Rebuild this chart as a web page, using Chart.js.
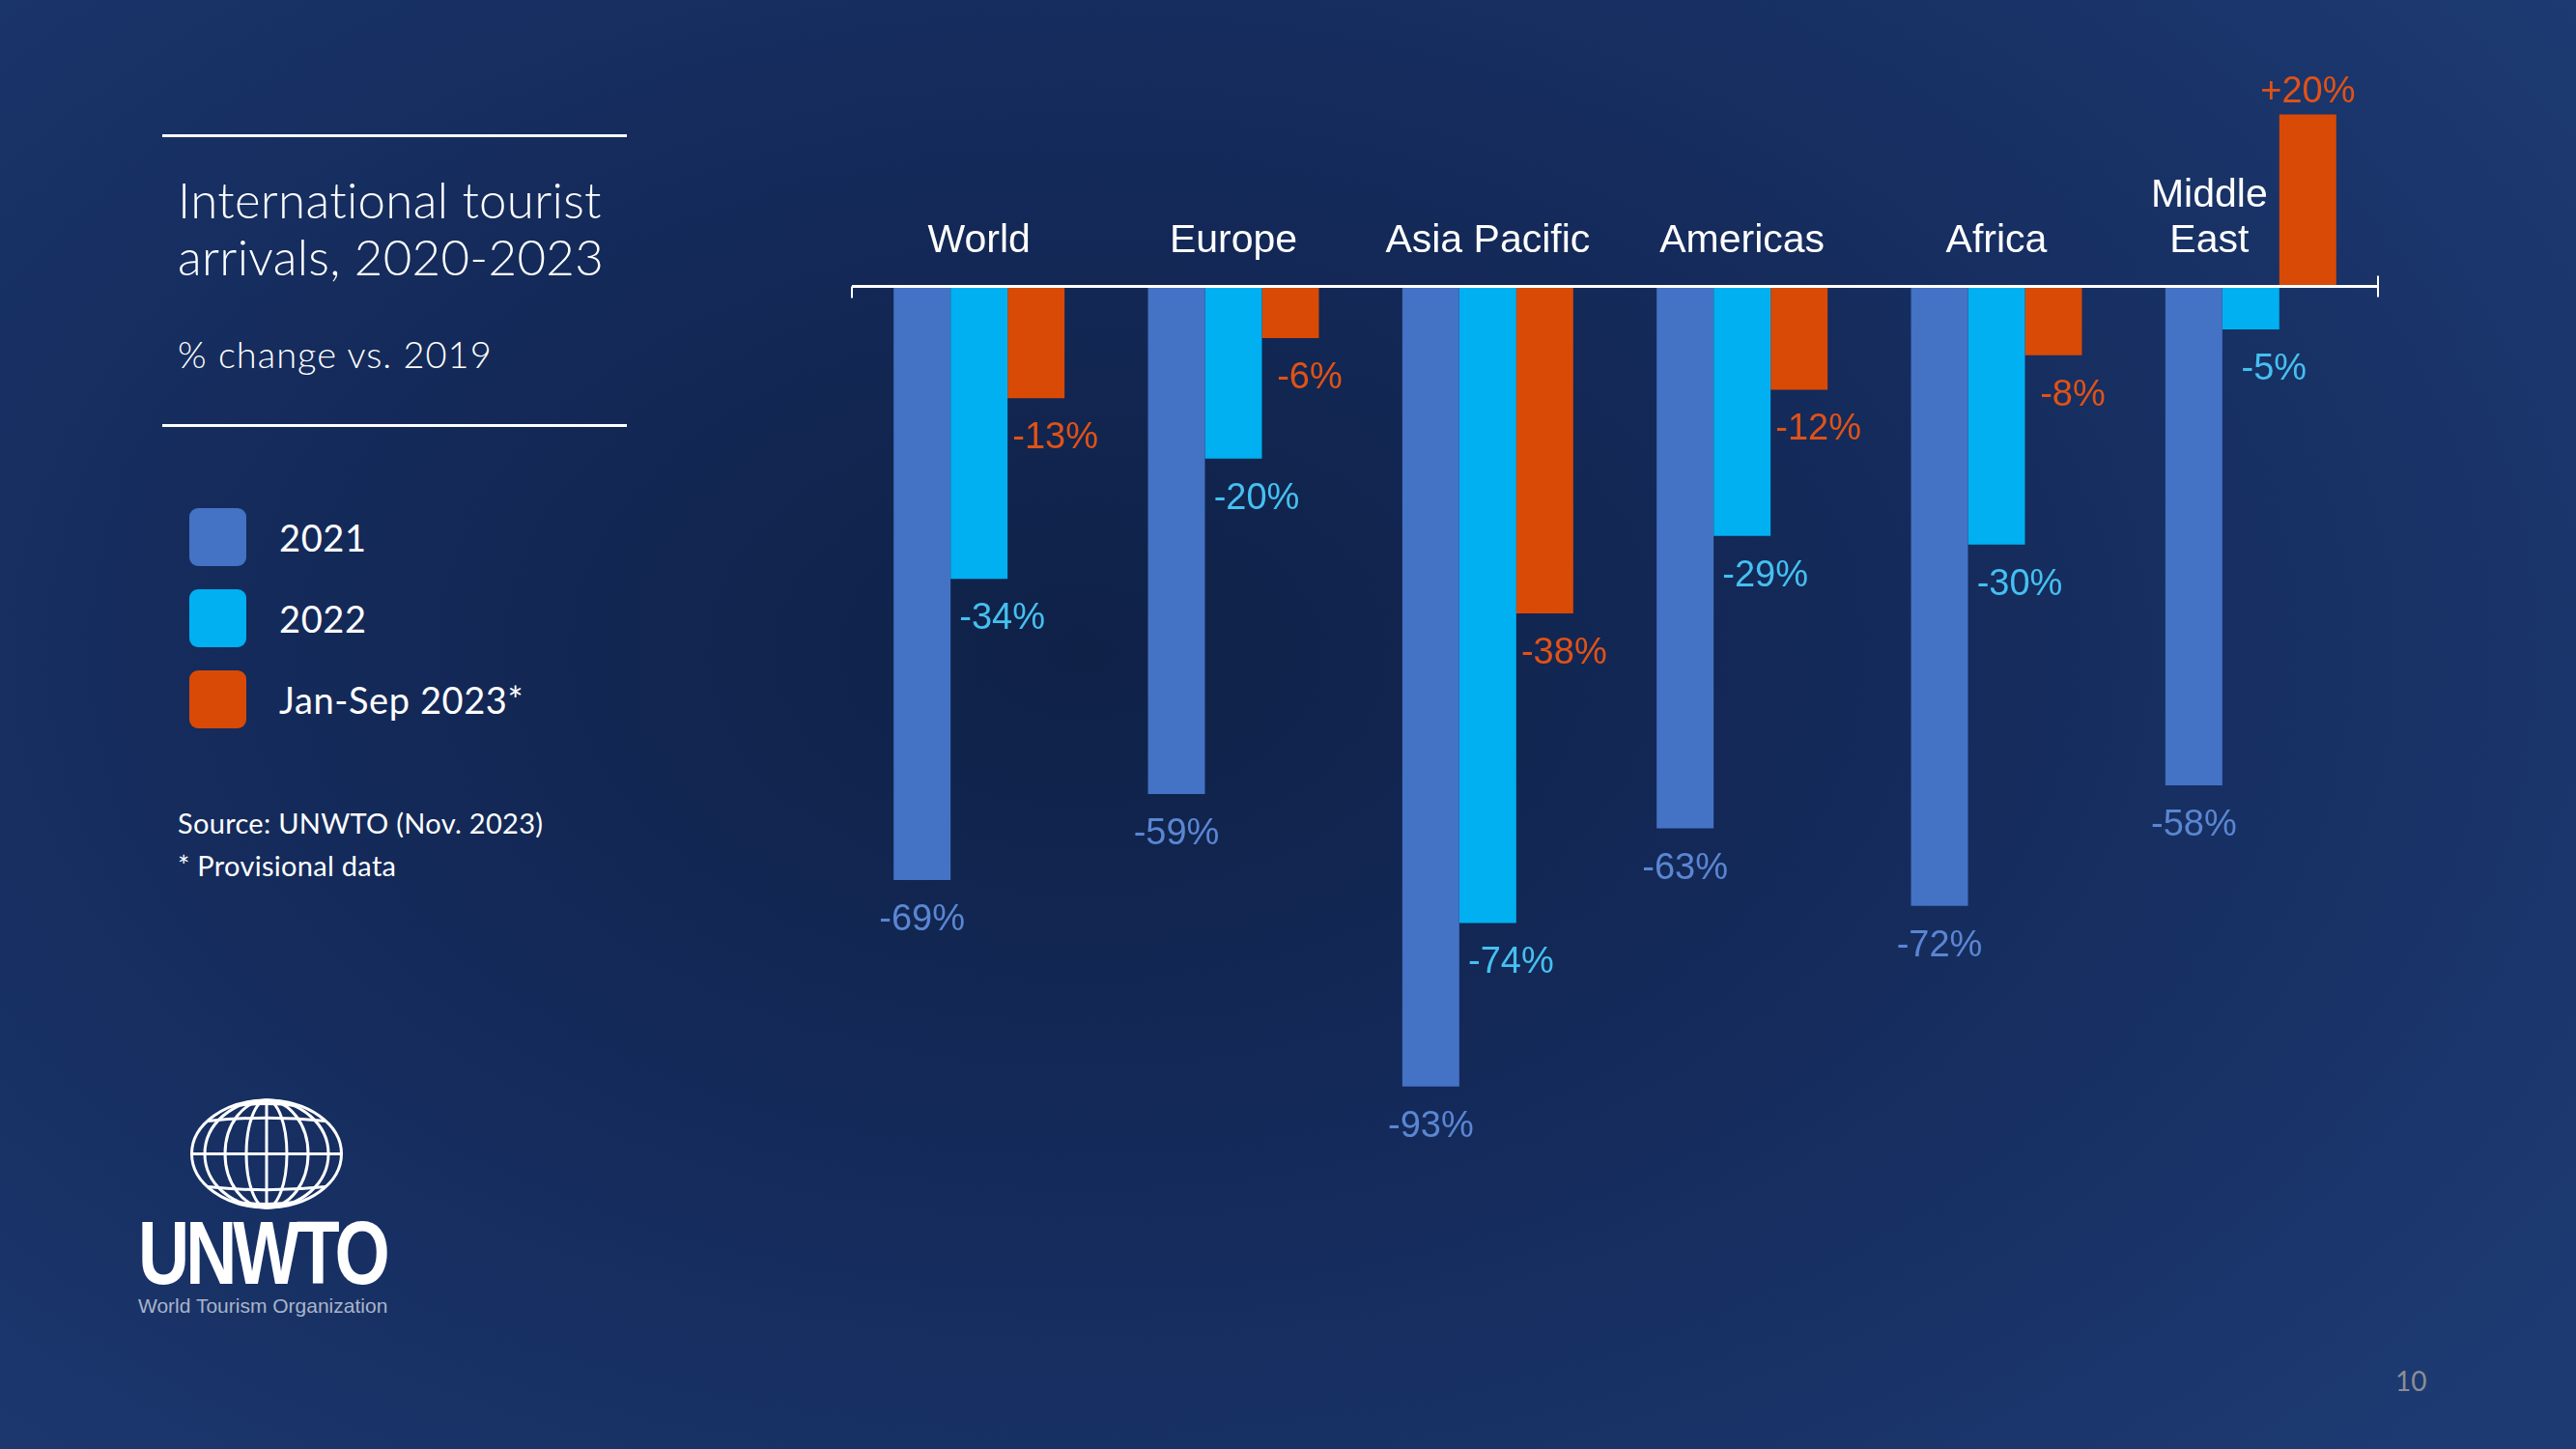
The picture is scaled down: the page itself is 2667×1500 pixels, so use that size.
<!DOCTYPE html>
<html>
<head>
<meta charset="utf-8">
<script src="https://cdn.jsdelivr.net/npm/chart.js@4.4.0/dist/chart.umd.min.js"></script>
<style>
  html, body { margin: 0; padding: 0; width: 2667px; height: 1500px; overflow: hidden; }
  body {
    position: relative;
    background: radial-gradient(ellipse 70% 80% at 42% 45%, #0f2147 0%, #142a5a 45%, #1d3a72 100%);
    font-family: Lato, "Open Sans", sans-serif;
    color: #fff;
  }
  .abs { position: absolute; white-space: nowrap; }
  .rule { position: absolute; left: 168px; width: 481px; height: 3px; background: #fff; }
  .title { left: 184px; top: 177px; font-size: 51px; line-height: 59px; font-weight: 300; letter-spacing: 0.3px; }
  .sub { left: 184px; top: 344px; font-size: 38px; line-height: 1.2; font-weight: 300; letter-spacing: 1px; }
  .lg-box { position: absolute; left: 196px; width: 59px; height: 60px; border-radius: 9px; }
  .lg-txt { left: 289px; font-size: 38px; line-height: 1.2; letter-spacing: 0.6px; }
  .src { left: 184px; top: 830px; font-size: 29px; line-height: 44px; letter-spacing: 0.3px; }
  .brand { left: 143px; top: 1242px; font-family: "Liberation Sans", Arial, sans-serif; font-weight: bold;
           font-size: 92px; line-height: 1.2; letter-spacing: -5px; transform: scaleX(0.8); transform-origin: left top; }
  .org { left: 143px; top: 1339px; font-family: "Liberation Sans", Arial, sans-serif;
         font-size: 21px; line-height: 1.2; color: #aab4cb; }
  .page { left: 2480px; top: 1413px; font-size: 28px; line-height: 1.2; color: #8b8e95; }
  #chart { position: absolute; left: 0; top: 0; }
</style>
</head>
<body>

<div class="rule" style="top:139px"></div>
<div class="abs title">International tourist<br>arrivals, 2020-2023</div>
<div class="abs sub">% change vs. 2019</div>
<div class="rule" style="top:439px"></div>

<div id="legend"></div>

<div class="abs src">Source: UNWTO (Nov. 2023)<br>* Provisional data</div>

<svg class="abs" style="left:194px;top:1136px" width="164" height="120" viewBox="0 0 164 120">
  <g fill="none" stroke="#fff" stroke-width="3">
    <ellipse cx="82" cy="58.5" rx="77.5" ry="55.5"/>
    <ellipse cx="82" cy="58.5" rx="64" ry="55.5"/>
    <ellipse cx="82" cy="58.5" rx="43" ry="55.5"/>
    <ellipse cx="82" cy="58.5" rx="21" ry="55.5"/>
    <line x1="82" y1="3" x2="82" y2="114"/>
    <line x1="4.5" y1="58.5" x2="159.5" y2="58.5"/>
    <path d="M21 24.5 Q82 18 143 24.5"/>
    <path d="M21 92.5 Q82 99 143 92.5"/>
    <path d="M48 9 Q82 4 116 9"/>
    <path d="M48 108 Q82 113 116 108"/>
  </g>
</svg>
<div class="abs brand">UNWTO</div>
<div class="abs org">World Tourism Organization</div>

<div class="abs page">10</div>

<canvas id="chart" width="2667" height="1500"></canvas>

<script>
const regions = ['World', 'Europe', 'Asia Pacific', 'Americas', 'Africa', ['Middle', 'East']];
const seriesNames = ['2021', '2022', 'Jan-Sep 2023*'];
const v2021 = [-69, -59, -93, -63, -72, -58];
const v2022 = [-34, -20, -74, -29, -30, -5];
const v2023 = [-13, -6, -38, -12, -8, 20];

const barColors = ['#4472c4', '#00b0f0', '#d94a06'];
const labelColors = ['#5a86d2', '#45c0f0', '#e05216'];
// value labels of the 2nd and 3rd series sit a bit to the right of their bars
const labelShift = [0, 24, 20];

// legend on the left panel
const legendTops = [526, 610, 694];
const legendEl = document.getElementById('legend');
seriesNames.forEach((name, i) => {
    const box = document.createElement('div');
    box.className = 'lg-box';
    box.style.top = legendTops[i] + 'px';
    box.style.background = barColors[i];
    legendEl.appendChild(box);
    const txt = document.createElement('div');
    txt.className = 'abs lg-txt';
    txt.style.top = (legendTops[i] + 8) + 'px';
    txt.textContent = name;
    legendEl.appendChild(txt);
});

const fmt = v => (v > 0 ? '+' : '') + v + '%';

const axisAndLabels = {
    id: 'axisAndLabels',
    afterDatasetsDraw(chart) {
        const { ctx, scales: { x, y } } = chart;
        const y0 = y.getPixelForValue(0);
        ctx.save();
        // zero line with end ticks
        ctx.strokeStyle = '#ffffff';
        ctx.lineWidth = 3;
        ctx.beginPath();
        ctx.moveTo(x.left, y0);
        ctx.lineTo(x.right, y0);
        ctx.stroke();
        ctx.lineWidth = 2;
        ctx.beginPath();
        ctx.moveTo(x.left, y0);
        ctx.lineTo(x.left, y0 + 12);
        ctx.moveTo(x.right, y0 - 11);
        ctx.lineTo(x.right, y0 + 11);
        ctx.stroke();

        // region names above the zero line
        ctx.fillStyle = '#ffffff';
        ctx.font = '41px "Liberation Sans", Arial, sans-serif';
        ctx.textAlign = 'center';
        ctx.textBaseline = 'alphabetic';
        regions.forEach((r, i) => {
            const lines = Array.isArray(r) ? r : [r];
            const cx = x.getPixelForValue(i) + (lines.length > 1 ? -43 : 0);
            lines.forEach((t, j) => {
                ctx.fillText(t, cx, y0 - 36 - (lines.length - 1 - j) * 47);
            });
        });

        // value labels
        ctx.font = '38px "Liberation Sans", Arial, sans-serif';
        chart.data.datasets.forEach((ds, di) => {
            const meta = chart.getDatasetMeta(di);
            ctx.fillStyle = labelColors[di];
            meta.data.forEach((bar, i) => {
                const v = ds.data[i];
                const tx = bar.x + (v > 0 ? 0 : labelShift[di]);
                const ty = v > 0 ? bar.y - 13 : bar.y + 52;
                ctx.fillText(fmt(v), tx, ty);
            });
        });
        ctx.restore();
    }
};

const ctx = document.getElementById('chart').getContext('2d');
new Chart(ctx, {
    type: 'bar',
    data: {
        labels: regions,
        datasets: [v2021, v2022, v2023].map((d, i) => ({
            label: seriesNames[i],
            data: d,
            backgroundColor: barColors[i],
            borderWidth: 0,
            barPercentage: 1,
            categoryPercentage: 0.672
        }))
    },
    options: {
        responsive: false,
        devicePixelRatio: 1,
        animation: false,
        layout: { padding: { left: 882, right: 205, top: 74, bottom: 313 } },
        scales: {
            x: { display: false },
            y: { display: false, min: -100, max: 25 }
        },
        plugins: {
            legend: { display: false },
            tooltip: { enabled: false }
        }
    },
    plugins: [axisAndLabels]
});
</script>
</body>
</html>
